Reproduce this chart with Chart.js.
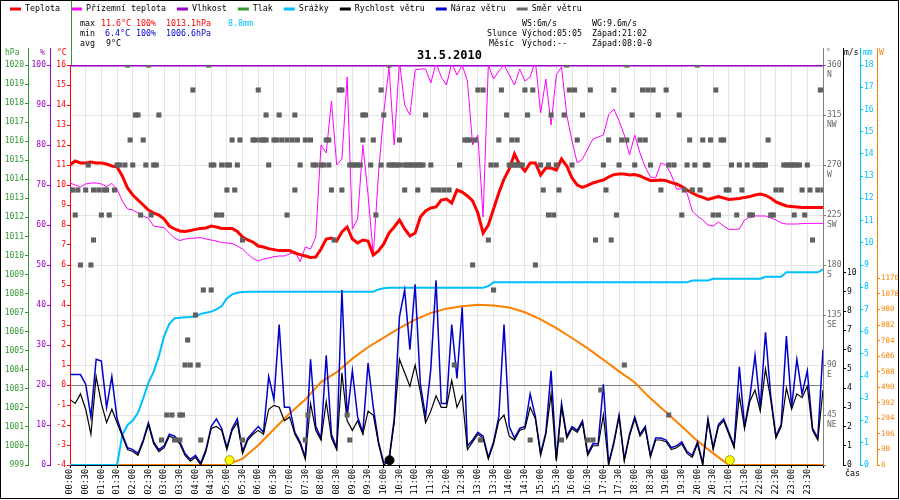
<!DOCTYPE html>
<html>
<head>
<meta charset="utf-8">
<script src="https://cdn.jsdelivr.net/npm/chart.js@4.4.1/dist/chart.umd.min.js"></script>
<style>
  html, body { margin: 0; padding: 0; background: #fff; }
</style>
</head>
<body>
<canvas id="graf" width="900" height="500"></canvas>
<script>
// mereni po 10 minutach, 00:00 .. 24:00
const KROK = 10;

const teplota = [
  11.0,11.2,11.1,11.1,11.15,11.1,11.1,11.05,10.95,10.9,10.45,9.85,
  9.5,9.25,9.0,8.75,8.6,8.5,8.3,7.95,7.8,7.7,7.68,7.72,
  7.78,7.83,7.85,7.95,7.9,7.83,7.83,7.83,7.68,7.4,7.25,7.15,
  6.95,6.9,6.82,6.77,6.72,6.72,6.72,6.6,6.52,6.45,6.38,6.4,
  6.8,7.3,7.35,7.2,7.65,7.9,7.3,7.1,7.25,7.2,6.5,6.7,
  7.05,7.6,7.9,8.25,7.8,7.45,7.6,8.4,8.7,8.85,8.9,9.25,
  9.3,9.1,9.75,9.65,9.45,9.2,8.6,7.6,8.0,8.8,9.6,10.3,
  10.8,11.55,11.0,10.7,11.1,11.1,10.5,10.85,10.85,10.75,11.3,10.95,
  10.35,10.0,9.88,9.98,10.1,10.18,10.25,10.4,10.52,10.55,10.55,10.5,
  10.52,10.45,10.33,10.23,10.22,10.25,10.22,10.12,10.05,9.92,9.75,9.6,
  9.47,9.38,9.28,9.35,9.42,9.35,9.28,9.3,9.33,9.38,9.42,9.5,
  9.55,9.48,9.35,9.15,9.05,8.95,8.93,8.9,8.87,8.87,8.87,8.87,
  8.87
];

const prizemniTeplota = [
  10.1,10.0,9.9,10.05,10.1,10.1,10.05,9.92,10.08,9.8,9.2,8.8,
  8.75,8.6,8.45,8.33,7.95,7.9,7.87,7.6,7.35,7.22,7.3,7.33,
  7.35,7.37,7.3,7.25,7.2,7.12,7.1,7.08,6.95,6.8,6.55,6.33,
  6.2,6.3,6.35,6.42,6.45,6.45,6.55,6.7,6.17,6.9,6.8,7.4,
  12.0,11.6,14.2,11.0,11.3,15.4,7.8,8.3,12.0,9.5,6.5,10.6,
  13.6,15.9,12.0,16.2,14.0,13.5,15.75,15.8,15.8,15.1,16.1,15.4,
  15.0,16.1,15.5,16.0,15.2,12.0,12.5,8.4,16.0,15.3,15.7,16.0,
  15.5,15.0,15.8,15.2,15.4,16.2,13.6,15.3,13.0,15.5,15.9,13.5,
  12.2,11.1,11.3,11.8,12.3,12.4,12.5,13.5,13.8,13.2,12.5,11.5,
  12.5,11.6,10.9,10.4,10.35,11.1,11.0,10.5,9.8,9.8,9.6,8.7,
  8.45,8.25,8.0,7.95,8.15,7.95,7.78,7.78,7.8,8.25,8.4,8.45,
  8.45,8.45,8.35,8.25,8.1,8.05,8.05,8.05,8.07,8.08,8.08,8.08,
  8.08
];

const srazky = [
  0,0,0,0,0,0,0,0,0,0,1.35,1.8,
  2.0,2.35,3.0,3.7,4.2,4.9,5.8,6.35,6.6,6.63,6.65,6.66,
  6.68,6.8,6.85,6.9,7.0,7.15,7.5,7.68,7.75,7.78,7.8,7.8,
  7.8,7.8,7.8,7.8,7.8,7.8,7.8,7.8,7.8,7.8,7.8,7.8,
  7.8,7.8,7.8,7.8,7.8,7.8,7.8,7.8,7.8,7.8,7.8,7.9,
  7.95,7.98,7.98,7.98,7.98,7.98,7.98,7.98,7.98,7.98,7.98,7.98,
  7.98,7.98,7.98,7.98,7.98,7.98,7.98,7.98,8.05,8.22,8.22,8.22,
  8.22,8.22,8.22,8.22,8.22,8.22,8.22,8.22,8.22,8.22,8.22,8.22,
  8.22,8.22,8.22,8.22,8.22,8.22,8.22,8.22,8.22,8.22,8.22,8.22,
  8.22,8.22,8.22,8.22,8.22,8.22,8.22,8.22,8.22,8.22,8.22,8.3,
  8.3,8.3,8.3,8.38,8.38,8.38,8.38,8.38,8.38,8.38,8.38,8.38,
  8.38,8.47,8.47,8.47,8.47,8.67,8.67,8.67,8.67,8.67,8.67,8.67,
  8.8
];

const rychlostVetru = [
  3.4,3.2,3.7,2.9,1.6,4.6,3.2,2.2,2.9,2.2,1.5,0.8,
  0.7,0.5,1.2,2.1,1.1,0.7,0.9,1.5,1.4,1.1,0.5,0.2,
  0.4,0.0,0.7,1.9,2.0,1.8,0.8,1.8,2.2,0.6,1.3,1.6,
  1.8,1.6,2.9,3.1,3.0,2.3,2.5,1.6,1.1,0.3,3.2,1.8,
  1.3,3.3,1.4,0.8,4.8,2.3,1.8,2.3,1.6,2.8,2.6,1.1,
  0.0,0.2,2.2,5.5,4.8,4.1,5.2,3.8,2.2,2.8,3.6,3.0,
  3.0,4.4,3.0,3.6,0.8,1.2,1.6,1.4,0.3,1.1,2.3,2.6,
  1.5,1.3,1.8,1.9,3.0,2.4,0.5,1.6,3.7,0.2,3.0,1.4,
  1.9,1.7,2.2,0.5,1.0,1.0,2.6,0.0,1.1,2.5,0.2,1.5,
  2.4,1.5,1.9,0.4,1.3,1.3,1.2,0.8,0.9,1.1,0.6,0.4,
  1.1,0.0,2.3,0.8,2.0,2.3,1.6,0.9,3.6,1.9,3.3,3.9,
  2.8,5.0,3.4,1.4,2.0,4.0,2.9,3.7,3.5,4.1,1.8,1.3,
  3.9
];

const narazVetru = [
  4.7,4.7,4.7,4.2,2.5,5.5,5.4,3.0,4.6,2.4,1.6,0.9,
  0.8,0.6,1.3,2.2,1.2,0.8,1.0,1.6,1.5,1.2,0.6,0.3,
  0.5,0.1,0.8,2.0,2.4,1.9,0.9,1.9,2.4,0.7,1.4,1.7,
  2.0,1.7,4.6,3.4,7.3,3.0,3.0,1.7,1.2,0.4,5.5,2.0,
  1.4,5.7,1.6,0.9,9.1,2.5,4.9,2.5,1.7,5.3,3.0,1.2,
  0.1,0.3,2.4,7.7,9.1,6.0,9.4,4.2,2.5,5.0,9.6,3.2,
  3.2,7.3,4.5,8.2,1.0,1.3,1.7,1.5,0.4,1.2,2.5,7.3,
  2.0,1.4,1.9,2.0,3.7,2.5,0.6,1.7,4.9,0.3,3.2,1.5,
  2.0,1.8,2.3,0.6,1.1,1.1,4.2,0.1,1.2,2.6,0.3,1.6,
  2.5,1.6,2.0,0.5,1.4,1.4,1.3,0.9,1.0,1.2,0.7,0.5,
  1.2,0.1,2.4,0.9,2.1,2.4,1.7,1.0,5.1,2.0,3.5,5.7,
  3.0,6.9,3.6,1.5,2.1,6.7,3.0,5.5,3.7,4.9,1.9,1.4,
  6.0
];

// vlhkost po hodinach
const vlhkost = [100,100,100,100,100,100,100,100,100,100,100,100,100,
                 100,100,100,100,100,100,100,100,100,100,100,100];

// slunecni zareni W/m2 po 30 minutach
const slunecniZareni = [
  0,0,0,0,0,0,0,0,0,0,0,
  40,125,225,325,412,522,585,670,742,803,862,916,958,985,1000,1009,
  1005,992,962,918,862,800,735,663,590,520,420,332,242,152,73,0,
  0,0,0,0,0,0
];

// smer vetru: [minuta dne, stupne]
const smerVetru = [
  [0,247.5],[5,247.5],[10,225],[15,247.5],[20,180],[30,247.5],[35,270],[40,180],[45,247.5],[45,202.5],
  [55,247.5],[60,225],[65,247.5],[70,247.5],[75,225],[85,247.5],[90,270],[95,270],[105,270],[110,360],
  [115,292.5],[120,270],[125,315],[130,315],[135,225],[140,292.5],[145,270],[150,360],[155,225],[160,270],
  [165,270],[170,315],[175,22.5],[185,45],[195,45],[200,22.5],[210,45],[210,22.5],[215,45],[220,90],
  [225,112.5],[230,90],[235,337.5],[240,135],[245,90],[250,22.5],[255,157.5],[265,360],[270,270],[270,157.5],
  [275,270],[280,225],[290,225],[290,270],[300,270],[300,247.5],[305,270],[310,292.5],[315,247.5],[320,270],
  [325,292.5],[330,202.5],[330,22.5],[350,292.5],[355,292.5],[360,337.5],[365,292.5],[370,292.5],[375,315],[375,292.5],
  [380,270],[390,292.5],[395,292.5],[400,315],[405,292.5],[415,292.5],[415,225],[425,292.5],[430,315],[430,247.5],
  [435,292.5],[440,270],[450,292.5],[450,22.5],[455,45],[460,292.5],[465,270],[470,270],[480,270],[485,270],
  [490,292.5],[495,292.5],[495,270],[500,247.5],[505,202.5],[515,337.5],[520,337.5],[520,247.5],[530,45],[535,22.5],
  [535,270],[540,270],[545,270],[550,270],[555,270],[560,315],[560,292.5],[565,315],[575,270],[580,292.5],
  [585,225],[595,337.5],[595,270],[600,315],[610,360],[610,270],[615,270],[620,270],[625,270],[630,270],
  [630,292.5],[640,270],[640,247.5],[645,270],[650,270],[655,270],[660,270],[665,270],[665,247.5],[670,270],
  [675,270],[680,315],[690,270],[695,247.5],[705,247.5],[715,247.5],[725,247.5],[735,90],[745,270],[755,292.5],
  [760,292.5],[765,292.5],[770,180],[775,292.5],[780,337.5],[785,22.5],[790,337.5],[800,202.5],[805,270],[810,157.5],
  [815,270],[820,292.5],[825,337.5],[835,315],[840,270],[845,292.5],[845,270],[850,270],[855,292.5],[855,270],
  [860,270],[865,270],[870,337.5],[875,315],[880,22.5],[885,337.5],[890,180],[900,270],[905,247.5],[915,270],
  [915,225],[920,315],[925,225],[930,270],[935,247.5],[940,22.5],[945,315],[950,360],[955,337.5],[960,270],
  [965,337.5],[970,292.5],[980,315],[990,22.5],[995,337.5],[1000,22.5],[1005,202.5],[1015,67.5],[1020,270],[1025,247.5],
  [1030,292.5],[1035,202.5],[1040,337.5],[1045,225],[1050,270],[1055,292.5],[1060,90],[1065,360],[1065,292.5],[1075,315],
  [1080,270],[1090,292.5],[1095,337.5],[1100,292.5],[1105,337.5],[1110,270],[1115,337.5],[1125,315],[1130,247.5],[1140,337.5],
  [1145,270],[1145,45],[1155,270],[1165,315],[1170,225],[1175,247.5],[1180,270],[1185,292.5],[1190,247.5],[1195,270],
  [1200,360],[1205,247.5],[1210,292.5],[1215,270],[1220,270],[1225,292.5],[1230,225],[1235,337.5],[1240,225],[1245,292.5],
  [1250,292.5],[1255,247.5],[1260,247.5],[1265,270],[1275,225],[1280,270],[1285,247.5],[1295,270],[1300,225],[1305,225],
  [1310,270],[1315,270],[1320,270],[1325,270],[1330,270],[1335,292.5],[1340,225],[1345,225],[1350,247.5],[1360,247.5],
  [1365,270],[1370,270],[1375,270],[1380,270],[1385,270],[1385,225],[1390,270],[1395,270],[1400,247.5],[1405,225],
  [1410,270],[1415,247.5],[1420,202.5],[1430,247.5],[1435,337.5],[1440,247.5]
];

const slunceVychodZapad = [305, 1262];   // 05:05, 21:02
const mesicZnacka = [611];
const nazvySmeru = ['', 'NE', 'E', 'SE', 'S', 'SW', 'W', 'NW', 'N'];

const rada = (hodnoty, krok) => hodnoty.map((v, i) => ({ x: i * krok, y: v }));
const hhmm = m => String(Math.floor(m / 60)).padStart(2, '0') + ':' + String(m % 60).padStart(2, '0');

const FONT = '"DejaVu Sans Mono", "Liberation Mono", monospace';
Chart.defaults.font.family = FONT;
Chart.defaults.font.size = 8;

// pevne sirky os
const sirka = w => s => { s.width = w; };
const jenDo = max => s => { s.ticks = s.ticks.filter(t => t.value <= max); };
const cislo = v => String(v);

function osa(pozice, barva, extra) {
  return Object.assign({
    position: pozice,
    border: { color: barva },
    grid: { drawOnChartArea: false, color: barva, tickColor: barva, tickLength: 3 }
  }, extra);
}

const dekorace = {
  id: 'dekorace',
  afterDraw(chart) {
    const ctx = chart.ctx;
    const a = chart.chartArea;
    ctx.save();
    ctx.textBaseline = 'middle';

    // legenda
    ctx.font = '8.3px ' + FONT;
    let x = 10;
    chart.data.datasets.forEach(ds => {
      if (!ds.vLegende) return;
      ctx.strokeStyle = ds.borderColor;
      ctx.lineWidth = 3;
      ctx.beginPath(); ctx.moveTo(x, 9); ctx.lineTo(x + 11, 9); ctx.stroke();
      ctx.fillStyle = '#000';
      ctx.fillText(ds.label, x + 15, 9);
      x += 15 + ctx.measureText(ds.label).width + 11;
    });

    // souhrn dne
    const texty = [
      [80, 24, '#000', 'max'], [101, 24, '#ff0000', '11.6°C'], [136, 24, '#ff0000', '100%'],
      [166, 24, '#ff0000', '1013.1hPa'], [228, 24, '#00bfff', '8.8mm'],
      [80, 34, '#000', 'min'], [105, 34, '#0000cc', '6.4°C'], [136, 34, '#0000cc', '100%'],
      [166, 34, '#0000cc', '1006.6hPa'],
      [80, 44, '#000', 'avg'], [106, 44, '#000', '9°C'],
      [522, 24, '#000', 'WS:6m/s'], [592, 24, '#000', 'WG:9.6m/s'],
      [487, 34, '#000', 'Slunce'], [522, 34, '#000', 'Východ:05:05'], [592, 34, '#000', 'Západ:21:02'],
      [489, 44, '#000', 'Měsíc'], [522, 44, '#000', 'Východ:--'], [592, 44, '#000', 'Západ:08:0-0']
    ];
    texty.forEach(([tx, ty, c, t]) => { ctx.fillStyle = c; ctx.fillText(t, tx, ty); });

    // titulek
    ctx.font = 'bold 12px ' + FONT;
    ctx.fillStyle = '#000';
    ctx.fillText('31.5.2010', 417, 56);

    // prodlouzeni os a jejich nazvy
    ctx.lineWidth = 1;
    const osy = [
      ['yP', '#339933', 'hPa', 5, 'left'], ['yH', '#9900cc', '%', 40, 'left'],
      ['yD', '#808080', '°', 826, 'right'], ['yW', '#000000', 'm/s', 844, 'right'],
      ['yR', '#00bfff', 'mm', 863, 'right'], ['yS', '#ff8000', 'W', 879, 'right']
    ];
    ctx.font = '8px ' + FONT;
    osy.forEach(([id, c, t, tx, strana]) => {
      const s = chart.scales[id];
      const lx = strana === 'left' ? s.right : s.left;
      ctx.strokeStyle = c;
      ctx.beginPath(); ctx.moveTo(lx + 0.5, 48); ctx.lineTo(lx + 0.5, a.top); ctx.stroke();
      ctx.fillStyle = c;
      ctx.fillText(t, tx, 53);
    });
    ctx.fillStyle = '#ff0000';
    ctx.fillText('°C', 57, 53);
    ctx.strokeStyle = '#339933';
    ctx.beginPath(); ctx.moveTo(a.left + 1.5, 0); ctx.lineTo(a.left + 1.5, a.top); ctx.stroke();

    ctx.fillStyle = '#000';
    ctx.font = '8.3px ' + FONT;
    ctx.fillText('čas', 845, 474);

    // ramecek
    ctx.strokeStyle = '#000';
    ctx.strokeRect(0.5, 0.5, 898, 498);
    ctx.restore();
  }
};

new Chart(document.getElementById('graf'), {
  type: 'line',
  data: {
    datasets: [
      { label: 'Teplota', vLegende: true, data: rada(teplota, KROK), yAxisID: 'yT',
        borderColor: '#ff0000', borderWidth: 3, order: 2 },
      { label: 'Přízemní teplota', vLegende: true, data: rada(prizemniTeplota, KROK), yAxisID: 'yT',
        borderColor: '#ff00ff', borderWidth: 1, order: 3 },
      { label: 'Vlhkost', vLegende: true, data: rada(vlhkost, 60), yAxisID: 'yH',
        borderColor: '#9900cc', borderWidth: 3, order: 4 },
      { label: 'Tlak', vLegende: true, data: [], yAxisID: 'yP',
        borderColor: '#339933', borderWidth: 2, order: 5 },
      { label: 'Srážky', vLegende: true, data: rada(srazky, KROK), yAxisID: 'yR',
        borderColor: '#00bfff', borderWidth: 2, order: 8 },
      { label: 'Rychlost větru', vLegende: true, data: rada(rychlostVetru, KROK), yAxisID: 'yW',
        borderColor: '#000000', borderWidth: 1.2, order: 6 },
      { label: 'Náraz větru', vLegende: true, data: rada(narazVetru, KROK), yAxisID: 'yW',
        borderColor: '#0000cc', borderWidth: 1.5, order: 7 },
      { label: 'Směr větru', vLegende: true, data: smerVetru.map(([m, d]) => ({ x: m, y: d })), yAxisID: 'yD',
        borderColor: '#666666', showLine: false, pointStyle: 'rect', pointRadius: 3.6,
        pointBackgroundColor: '#606060', pointBorderWidth: 0, order: 1 },
      { label: 'Sluneční záření', data: rada(slunecniZareni, 30), yAxisID: 'yS',
        borderColor: '#ff8000', borderWidth: 2, order: 9 },
      { label: 'Slunce a Měsíc', yAxisID: 'yW', showLine: false, order: 0,
        data: slunceVychodZapad.map(m => ({ x: m, y: 0.25 })).concat(mesicZnacka.map(m => ({ x: m, y: 0.25 }))),
        pointRadius: 4.5, pointBorderWidth: 1,
        pointBackgroundColor: ['#ffff00', '#ffff00', '#000000'],
        pointBorderColor: ['#999900', '#999900', '#000000'] }
    ]
  },
  options: {
    responsive: false,
    devicePixelRatio: 1,
    animation: false,
    events: [],
    layout: { padding: { top: 65, left: 0, right: 0, bottom: 0 } },
    elements: { point: { radius: 0 }, line: { tension: 0 } },
    plugins: { legend: { display: false }, tooltip: { enabled: false } },
    scales: {
      x: {
        type: 'linear', position: 'bottom', min: 0, max: 1440,
        afterFit: s => { s.height = 35; },
        border: { color: '#000' },
        grid: { color: '#e4e4e4', tickColor: '#000', tickLength: 3 },
        ticks: { stepSize: 30, autoSkip: false, maxRotation: 90, minRotation: 90, padding: 1,
                 color: '#000', font: { size: 8.5 },
                 callback: v => v >= 1440 ? '' : hhmm(v) }
      },
      yT: osa('left', '#ff0000', {
        weight: 0, min: -4, max: 16, afterFit: sirka(20),
        grid: { drawOnChartArea: true, tickColor: '#ff0000', tickLength: 3,
                color: c => c.tick && c.tick.value === 0 ? '#808080' : 'rgba(0,0,0,0)' },
        ticks: { stepSize: 1, color: '#ff0000', padding: 1, font: { size: 8 }, callback: cislo }
      }),
      yH: osa('left', '#9900cc', {
        weight: 1, min: 0, max: 100, afterFit: sirka(22),
        ticks: { stepSize: 10, color: '#9900cc', padding: 1, font: { size: 8 }, callback: cislo }
      }),
      yP: osa('left', '#339933', {
        weight: 2, min: 999, max: 1020, afterFit: sirka(28),
        ticks: { stepSize: 1, color: '#339933', padding: 1, font: { size: 8 }, callback: cislo }
      }),
      yD: osa('right', '#808080', {
        weight: 0, min: 0, max: 360, afterFit: sirka(20),
        grid: { drawOnChartArea: true, tickColor: '#808080', tickLength: 3,
                color: c => c.tick && c.tick.value > 0 && c.tick.value < 360 ? '#e4e4e4' : 'rgba(0,0,0,0)' },
        ticks: { stepSize: 45, color: '#666666', padding: 1, font: { size: 8 },
                 callback: v => v === 0 ? '' : ['', String(v), nazvySmeru[v / 45]] }
      }),
      yW: osa('right', '#000000', {
        weight: 1, min: 0, max: 20.8, afterFit: sirka(17), afterBuildTicks: jenDo(10),
        ticks: { stepSize: 1, color: '#000', padding: 1, font: { size: 8 }, callback: cislo }
      }),
      yR: osa('right', '#00bfff', {
        weight: 2, min: 0, max: 18, afterFit: sirka(17),
        ticks: { stepSize: 1, color: '#00bfff', padding: 1, font: { size: 8 }, callback: cislo }
      }),
      yS: osa('right', '#ff8000', {
        weight: 3, min: 0, max: 2520, afterFit: sirka(23), afterBuildTicks: jenDo(1176),
        ticks: { stepSize: 98, color: '#ff8000', padding: 1, font: { size: 7.5 }, callback: cislo }
      })
    }
  },
  plugins: [dekorace]
});
</script>
</body>
</html>
